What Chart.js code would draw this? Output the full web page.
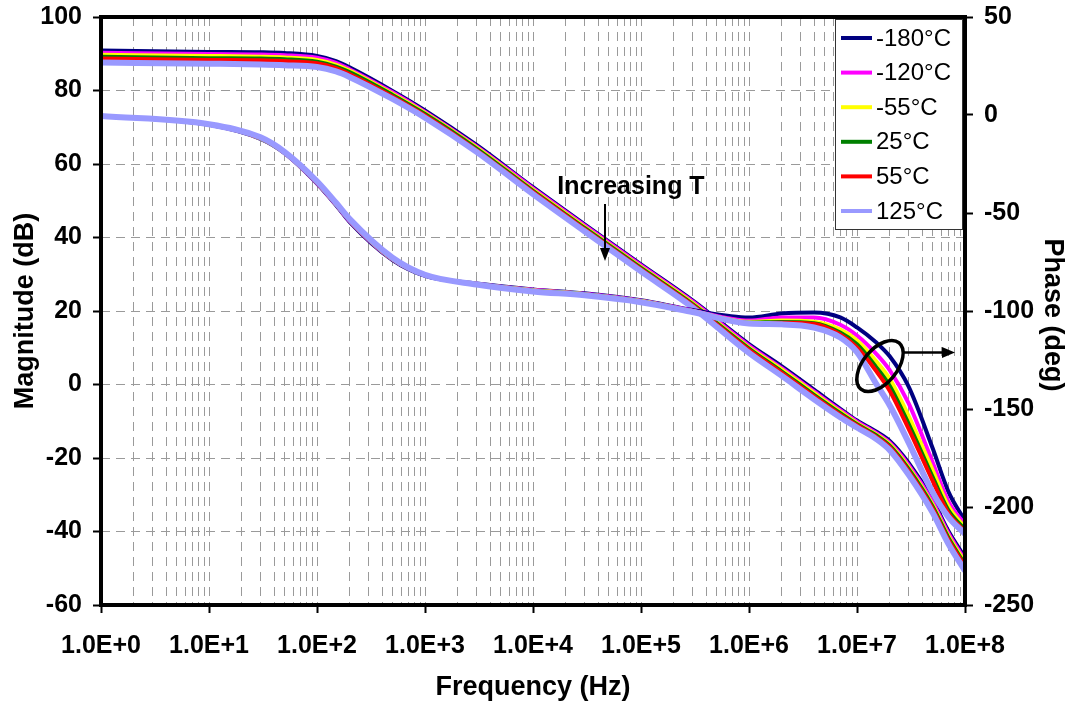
<!DOCTYPE html>
<html>
<head>
<meta charset="utf-8">
<script src="https://cdn.jsdelivr.net/npm/chart.js@4.4.1/dist/chart.umd.min.js"></script>
<style>
    html, body { margin: 0; padding: 0; background: #fff; }
    #wrap { width: 1073px; height: 706px; }
</style>
</head>
<body>
<div id="wrap"><canvas id="chart" width="1073" height="706"></canvas></div>
<script>
// frequency points (Hz)
const frequencies = [1, 10, 30, 50, 100, 150, 200, 500, 1e3, 3e3, 1e4, 3e4, 1e5, 3e5, 1e6, 2e6, 4e6, 7e6, 1e7, 1.5e7, 2e7, 3e7, 5e7, 7e7, 1e8];

const temperatures = ["-180°C", "-120°C", "-55°C", "25°C", "55°C", "125°C"];
const seriesColors = ["#000080", "#FF00FF", "#FFFF00", "#008000", "#FF0000", "#9999FF"];

// magnitude (dB), left axis
const magM180 = [90.9, 90.5, 90.4, 90.2, 89.4, 88.0, 86.3, 79.9, 74.6, 65.2, 53.7, 43.6, 32.7, 22.9, 11.0, 5.0, -1.4, -6.6, -9.8, -12.8, -15.3, -21.3, -31.3, -39.8, -47.1];
const magM120 = [90.3, 89.9, 89.8, 89.6, 88.9, 87.5, 85.8, 79.5, 74.2, 64.8, 53.4, 43.3, 32.4, 22.6, 10.6, 4.5, -1.9, -7.0, -10.1, -13.2, -15.8, -21.9, -31.9, -40.4, -47.8];
const magM55 = [89.7, 89.4, 89.2, 89.0, 88.3, 87.0, 85.4, 79.1, 73.9, 64.5, 53.0, 42.9, 32.0, 22.2, 10.1, 4.1, -2.3, -7.4, -10.5, -13.5, -16.2, -22.5, -32.6, -41.1, -48.4];
const magP25 = [89.2, 88.8, 88.7, 88.5, 87.8, 86.5, 85.0, 78.8, 73.6, 64.2, 52.7, 42.6, 31.7, 21.9, 9.8, 3.6, -2.8, -7.8, -10.8, -13.8, -16.6, -23.0, -33.1, -41.6, -49.0];
const magP55 = [88.7, 88.3, 88.2, 88.0, 87.4, 86.1, 84.5, 78.4, 73.2, 63.8, 52.4, 42.3, 31.4, 21.6, 9.4, 3.2, -3.2, -8.2, -11.1, -14.2, -17.0, -23.5, -33.7, -42.2, -49.5];
const magP125 = [87.6, 87.3, 87.1, 86.9, 86.4, 85.2, 83.7, 77.7, 72.6, 63.3, 51.8, 41.7, 30.8, 21.0, 8.6, 2.4, -4.0, -8.9, -11.7, -14.8, -17.8, -24.5, -34.8, -43.3, -50.7];

// phase (deg), right axis
const phM180 = [-0.5, -5.0, -12.2, -19.5, -35.0, -46.0, -54.5, -74.0, -82.0, -86.0, -89.0, -91.0, -94.5, -99.5, -103.3, -101.3, -100.8, -103.3, -108.4, -116.0, -123.0, -138.5, -169.8, -192.0, -207.0];
const phM120 = [-0.5, -4.9, -12.0, -19.3, -34.7, -45.7, -54.0, -73.7, -81.8, -86.1, -89.2, -91.2, -94.7, -99.8, -104.9, -103.3, -103.3, -107.0, -112.5, -121.7, -130.0, -147.0, -177.0, -197.0, -209.0];
const phM55 = [-0.5, -4.9, -11.9, -19.2, -34.5, -45.5, -53.7, -73.5, -81.7, -86.2, -89.4, -91.4, -94.9, -100.0, -105.5, -104.9, -105.5, -109.5, -115.0, -125.5, -134.5, -153.5, -181.0, -199.5, -210.5];
const phP25 = [-0.5, -4.9, -11.8, -19.1, -34.3, -45.3, -53.5, -73.3, -81.6, -86.3, -89.6, -91.6, -95.1, -100.2, -106.0, -105.6, -106.2, -111.0, -117.0, -128.5, -138.0, -157.5, -184.5, -201.5, -211.5];
const phP55 = [-0.5, -4.8, -11.7, -19.0, -34.1, -45.1, -53.3, -73.2, -81.6, -86.4, -89.8, -91.8, -95.3, -100.3, -106.2, -106.0, -106.6, -112.0, -118.6, -130.5, -140.5, -160.0, -186.5, -203.0, -212.5];
const phP125 = [-0.5, -4.7, -11.4, -18.8, -33.8, -44.8, -53.0, -72.8, -81.5, -86.5, -90.0, -92.0, -95.5, -100.5, -106.4, -106.8, -108.4, -113.5, -121.0, -137.0, -148.0, -167.0, -192.4, -205.0, -213.7];

const magSeries = [magM180, magM120, magM55, magP25, magP55, magP125];
const phaseSeries = [phM180, phM120, phM55, phP25, phP55, phP125];

const FONT = "'Liberation Sans', Arial, sans-serif";

function toPoints(values) {
    return frequencies.map((f, i) => ({ x: f, y: values[i] }));
}

function isDecade(v) {
    const e = Math.log10(v);
    return Math.abs(e - Math.round(e)) < 1e-9;
}

const datasets = [];
// phase first so it is drawn on top, 125°C on top of everything
for (let i = 5; i >= 0; i--) {
    datasets.push({
        label: temperatures[i] + " phase",
        data: toPoints(phaseSeries[i]),
        yAxisID: "y1",
        borderColor: seriesColors[i],
        borderWidth: i === 5 ? 6 : 4,
        pointRadius: 0,
        cubicInterpolationMode: "monotone",
        fill: false
    });
}
for (let i = 5; i >= 0; i--) {
    datasets.push({
        label: temperatures[i],
        data: toPoints(magSeries[i]),
        yAxisID: "y",
        borderColor: seriesColors[i],
        borderWidth: i === 5 ? 6 : 4,
        pointRadius: 0,
        cubicInterpolationMode: "monotone",
        fill: false
    });
}

const decorations = {
    id: "decorations",
    afterDatasetsDraw(chart) {
        const ctx = chart.ctx;
        const a = chart.chartArea;
        ctx.save();

        // "Increasing T" with arrow
        ctx.fillStyle = "#000";
        ctx.strokeStyle = "#000";
        ctx.font = "bold 25px " + FONT;
        ctx.textAlign = "center";
        ctx.textBaseline = "middle";
        ctx.fillText("Increasing T", 631, 187);
        ctx.lineWidth = 2;
        ctx.beginPath();
        ctx.moveTo(605, 204);
        ctx.lineTo(605, 250);
        ctx.stroke();
        ctx.beginPath();
        ctx.moveTo(600, 248);
        ctx.lineTo(610, 248);
        ctx.lineTo(605, 261);
        ctx.closePath();
        ctx.fill();

        // ellipse round the phase curves, arrow to the phase axis
        ctx.lineWidth = 3.5;
        ctx.beginPath();
        ctx.ellipse(880, 366, 30, 17, -0.88, 0, Math.PI * 2);
        ctx.stroke();
        ctx.lineWidth = 2.5;
        ctx.beginPath();
        ctx.moveTo(904, 352.5);
        ctx.lineTo(945, 352.5);
        ctx.stroke();
        ctx.beginPath();
        ctx.moveTo(942, 347);
        ctx.lineTo(955, 352.5);
        ctx.lineTo(942, 358);
        ctx.closePath();
        ctx.fill();

        // legend box
        const lx = 835.5, ly = 19.5, lw = 127, lh = 210;
        ctx.fillStyle = "#fff";
        ctx.fillRect(lx, ly, lw, lh);
        ctx.strokeStyle = "#333";
        ctx.lineWidth = 1;
        ctx.strokeRect(lx, ly, lw, lh);
        ctx.font = "24px " + FONT;
        ctx.textAlign = "left";
        ctx.textBaseline = "middle";
        temperatures.forEach((t, i) => {
            const y = 38 + i * 34.6;
            ctx.strokeStyle = seriesColors[i];
            ctx.lineWidth = 4;
            ctx.beginPath();
            ctx.moveTo(841, y);
            ctx.lineTo(872, y);
            ctx.stroke();
            ctx.fillStyle = "#000";
            ctx.fillText(t, 876, y + 1);
        });

        // plot frame
        ctx.strokeStyle = "#000";
        ctx.lineWidth = 4;
        ctx.strokeRect(a.left, a.top, a.right - a.left, a.bottom - a.top);

        // axis titles
        ctx.fillStyle = "#000";
        ctx.font = "bold 27px " + FONT;
        ctx.textAlign = "center";
        ctx.textBaseline = "middle";
        ctx.fillText("Frequency (Hz)", (a.left + a.right) / 2, 688);

        ctx.save();
        ctx.translate(26, (a.top + a.bottom) / 2);
        ctx.rotate(-Math.PI / 2);
        ctx.fillText("Magnitude (dB)", 0, 0);
        ctx.restore();

        ctx.save();
        ctx.translate(1052, (a.top + a.bottom) / 2 + 4);
        ctx.rotate(Math.PI / 2);
        ctx.fillText("Phase (deg)", 0, 0);
        ctx.restore();

        ctx.restore();
    }
};

const tickFont = { family: FONT, size: 25, weight: "bold" };

function noVerticalPadding(scale) {
    scale.paddingTop = 0;
    scale.paddingBottom = 0;
}

new Chart(document.getElementById("chart"), {
    type: "line",
    data: { datasets: datasets },
    options: {
        responsive: false,
        animation: false,
        devicePixelRatio: 1,
        layout: { padding: { top: 17, left: 0, right: 0, bottom: 0 } },
        plugins: {
            legend: { display: false },
            tooltip: { enabled: false }
        },
        scales: {
            x: {
                type: "logarithmic",
                position: "bottom",
                min: 1,
                max: 1e8,
                afterBuildTicks: (scale) => {
                    const t = [];
                    for (let e = 0; e <= 8; e++) {
                        for (let m = 1; m <= 9; m++) {
                            const v = m * Math.pow(10, e);
                            if (v <= 1e8) t.push({ value: v, major: m === 1 });
                        }
                    }
                    scale.ticks = t;
                },
                afterFit: (scale) => { scale.height = 101; },
                ticks: {
                    autoSkip: false,
                    maxRotation: 0,
                    minRotation: 0,
                    padding: 18,
                    color: "#000",
                    font: tickFont,
                    callback: (v) => isDecade(v) ? "1.0E+" + Math.round(Math.log10(v)) : ""
                },
                grid: {
                    color: "#9a9a9a",
                    lineWidth: 1,
                    tickLength: 8,
                    tickWidth: 2,
                    tickColor: (c) => (c.tick && isDecade(c.tick.value)) ? "#000" : "rgba(0,0,0,0)"
                },
                border: { display: false, dash: [9, 6] }
            },
            y: {
                type: "linear",
                position: "left",
                min: -60,
                max: 100,
                afterFit: (scale) => { scale.width = 101; noVerticalPadding(scale); },
                ticks: { stepSize: 20, padding: 11, color: "#000", font: tickFont },
                grid: { color: "#9a9a9a", lineWidth: 1, tickLength: 8, tickWidth: 2, tickColor: "#000" },
                border: { display: false, dash: [9, 6] }
            },
            y1: {
                type: "linear",
                position: "right",
                min: -250,
                max: 50,
                afterFit: (scale) => { scale.width = 108; noVerticalPadding(scale); },
                ticks: { stepSize: 50, padding: 11, color: "#000", font: tickFont },
                grid: { drawOnChartArea: false, tickLength: 8, tickWidth: 2, tickColor: "#000" },
                border: { display: false }
            }
        }
    },
    plugins: [decorations]
});
</script>
</body>
</html>
